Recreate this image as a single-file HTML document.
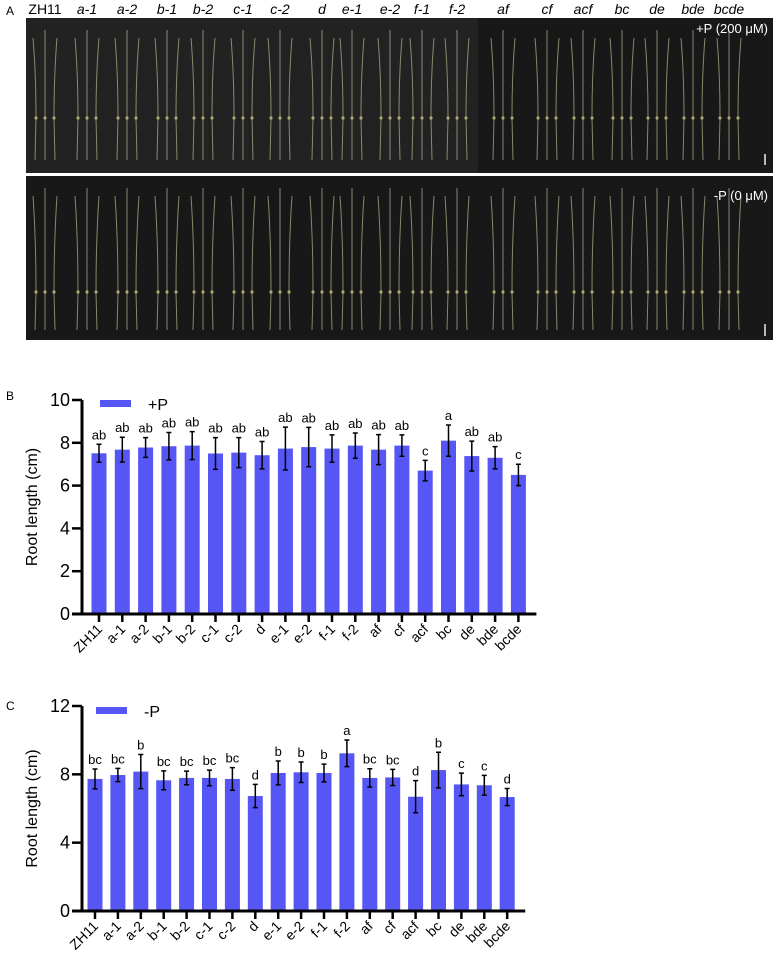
<!DOCTYPE html>
<html><head><meta charset="utf-8"><style>
body{margin:0;background:#fff;width:774px;height:967px;overflow:hidden;font-family:"Liberation Sans",Arial,sans-serif}
svg{position:absolute;left:0;top:0}
</style></head><body>
<svg id="fig" width="774" height="967" viewBox="0 0 774 967" xmlns="http://www.w3.org/2000/svg">
<g id="panelA">
<text x="6" y="15" font-size="12">A</text>
<rect x="26" y="18" width="747" height="155" fill="#181818"/>
<rect x="26" y="18" width="452" height="155" fill="#222"/>
<rect x="26" y="176" width="747" height="164" fill="#181818"/>
<g id="seedlings"></g>
<text x="768" y="33" font-size="13" fill="#fff" text-anchor="end">+P (200 μM)</text>
<text x="768" y="200" font-size="13" fill="#fff" text-anchor="end">-P (0 μM)</text>
<line x1="765" y1="154" x2="765" y2="165" stroke="#eee" stroke-width="1.5"/>
<line x1="765" y1="324" x2="765" y2="336" stroke="#eee" stroke-width="1.5"/>
<g id="photoLabels"></g>
</g>
<g id="chartB"></g>
<g id="chartC"></g>
</svg>
<script>
const categories=["ZH11","a-1","a-2","b-1","b-2","c-1","c-2","d","e-1","e-2","f-1","f-2","af","cf","acf","bc","de","bde","bcde"];
const plusP=[7.51,7.68,7.78,7.84,7.87,7.5,7.54,7.42,7.73,7.8,7.73,7.87,7.68,7.87,6.70,8.1,7.38,7.3,6.5];
const plusPErr=[0.42,0.58,0.46,0.64,0.65,0.74,0.7,0.64,1.0,0.92,0.64,0.59,0.7,0.5,0.48,0.73,0.7,0.52,0.5];
const plusPLetters=["ab","ab","ab","ab","ab","ab","ab","ab","ab","ab","ab","ab","ab","ab","c","a","ab","ab","c"];
const minusP=[7.73,7.96,8.16,7.65,7.79,7.79,7.73,6.73,8.08,8.12,8.08,9.23,7.79,7.82,6.69,8.25,7.41,7.36,6.67];
const minusPErr=[0.58,0.39,1.0,0.55,0.4,0.46,0.66,0.68,0.7,0.6,0.52,0.78,0.54,0.47,0.94,1.04,0.66,0.58,0.5];
const minusPLetters=["bc","bc","b","bc","bc","bc","bc","d","b","b","b","a","bc","bc","d","b","c","c","d"];
const ticksB=[0,2,4,6,8,10];
const ticksC=[0,4,8,12];
const photoLabelX=[45,87,127,167,203,243,280,322,352,390,422,457,503,547,583,622,657,693,729];
const NS="http://www.w3.org/2000/svg";
function mk(tag,attrs,parent){const e=document.createElementNS(NS,tag);for(const k in attrs)e.setAttribute(k,attrs[k]);parent.appendChild(e);return e;}

const pl=document.getElementById('photoLabels');
const sd=document.getElementById('seedlings');
categories.forEach((c,i)=>{
  const t=mk('text',{x:photoLabelX[i],y:14,'font-size':14,'text-anchor':'middle','font-style':i===0?'normal':'italic'},pl);
  
  
  t.textContent=c;
  [[30,160,118],[188,330,292]].forEach(([y1,y2,yn])=>{
    for(let k=-1;k<=1;k++){
      const x=photoLabelX[i]+k*9;
      const l=mk('path',{d:`M${x+(k*3)} ${y1+Math.abs(k)*8} Q${x} ${(y1+yn)/2} ${x} ${yn} L${x+k} ${y2}`,stroke:'#b9b88e','stroke-width':1,fill:'none',opacity:0.7},sd);
      
      
      const n=mk('circle',{cx:x,cy:yn,r:1.6,fill:'#c8c080',opacity:0.8},sd);
      
      
    }
  });
});

function drawChart(g,opt){
  const {label,ly,y0,yTop,maxV,ticks,vals,errs,letters,x0,step,legend,legendY}=opt;
  const yScale=v=>y0-(v/maxV)*(y0-yTop);
  const xScale=i=>x0+i*step;
  const pt=mk('text',{x:6,y:ly,'font-size':12},g);pt.textContent=label;
  
  vals.forEach((v,i)=>{
    const x=xScale(i);
    const b=mk('rect',{x:x-7.5,y:yScale(v),width:15,height:y0-yScale(v),fill:'#5656f5'},g);
    
    const top=yScale(v+errs[i]),bot=yScale(v-errs[i]);
    const e=mk('path',{d:`M${x} ${top}V${bot}M${x-2.5} ${top}H${x+2.5}M${x-2.5} ${bot}H${x+2.5}`,stroke:'#000','stroke-width':1.5,fill:'none'},g);
    
    const t=mk('text',{x:x,y:top-5,'font-size':13,'text-anchor':'middle'},g);
    t.textContent=letters[i];
    
    const tk=mk('line',{x1:x,y1:y0,x2:x,y2:y0+8,stroke:'#000','stroke-width':2.5},g);
    
    const xl=mk('text',{x:x+4,y:y0+16,'font-size':14,'text-anchor':'end',transform:`rotate(-45 ${x+4} ${y0+16})`},g);
    xl.textContent=categories[i];
    
  });
  const ax=mk('path',{d:`M82 ${yTop}V${y0}M72 ${y0}H${xScale(vals.length-1)+18}`,stroke:'#000','stroke-width':3,fill:'none'},g);
  
  ticks.forEach(t=>{
    const y=yScale(t);
    const l=mk('line',{x1:72,y1:y,x2:82,y2:y,stroke:'#000','stroke-width':2.5},g);
    
    const tx=mk('text',{x:70,y:y+6,'font-size':18,'text-anchor':'end'},g);
    tx.textContent=t;
    
  });
  const cy=(y0+yTop)/2;
  const yt=mk('text',{x:37,y:cy,'font-size':16,'text-anchor':'middle',transform:`rotate(-90 37 ${cy})`},g);
  yt.textContent='Root length (cm)';
  
  const sw=mk('rect',{x:legend[0],y:legendY,width:31,height:7,fill:'#5656f5'},g);
  
  const lt=mk('text',{x:legend[0]+48,y:legendY+10,'font-size':16},g);
  lt.textContent=legend[1];
  
}
drawChart(document.getElementById('chartB'),{label:'B',ly:400,y0:614,yTop:400,maxV:10,ticks:ticksB,vals:plusP,errs:plusPErr,letters:plusPLetters,x0:99,step:23.3,legend:[100,'+P'],legendY:400});
drawChart(document.getElementById('chartC'),{label:'C',ly:710,y0:911,yTop:706,maxV:12,ticks:ticksC,vals:minusP,errs:minusPErr,letters:minusPLetters,x0:95,step:22.9,legend:[96,'-P'],legendY:707});
</script>
</body></html>
